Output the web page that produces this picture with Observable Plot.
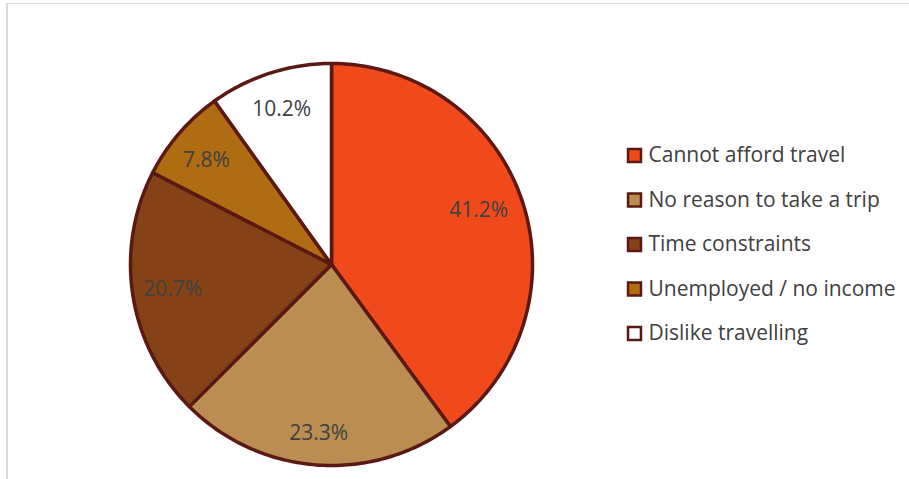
<!DOCTYPE html>
<html>
<head>
<meta charset="utf-8">
<script src="https://cdn.jsdelivr.net/npm/d3@7"></script>
<script src="https://cdn.jsdelivr.net/npm/@observablehq/plot@0.6"></script>
<style>
  html, body { margin: 0; padding: 0; background: #fff; }
  #wrap { position: relative; width: 909px; height: 479px; overflow: hidden; }
  #frame { position: absolute; left: 6px; top: 3px; width: 920px; height: 490px;
           border-left: 2px solid #d9d9d9; border-top: 1.5px solid #d9d9d9; pointer-events: none; }
</style>
</head>
<body>
<div id="wrap"><div id="frame"></div></div>
<script>
// ---- data ----
const categories = ["Cannot afford travel", "No reason to take a trip", "Time constraints", "Unemployed / no income", "Dislike travelling"];
const values = [41.2, 23.3, 20.7, 7.8, 10.2];
const labels = ["41.2%", "23.3%", "20.7%", "7.8%", "10.2%"];

// ---- style / layout ----
const colors = ["#F04A1C", "#BB8D53", "#844216", "#B06C13", "#FFFFFF"];
const strokeColor = "#5B1913";
const textColor = "#404040";
const labelRadius = [0.78, 0.84, 0.80, 0.81, 0.81];
const labelAngleShift = [-2, 0, 0, -1, 0]; // degrees
const cx = 331, cy = 264, R = 201;
const legendPx = 634, legendTextPx = 648, legendPy0 = 155, legendStep = 44.5;
const toX = px => (px - cx) / R;
const toY = py => (cy - py) / R;

const arcs = d3.pie().sort(null).value(d => d)(values);

// slice outlines as polygons in unit-circle coordinates
const slicePts = [];
arcs.forEach((a, i) => {
  const cat = categories[i];
  slicePts.push({cat, x: 0, y: 0});
  const n = Math.max(2, Math.ceil((a.endAngle - a.startAngle) / (Math.PI / 180)));
  for (let k = 0; k <= n; k++) {
    const t = a.startAngle + (a.endAngle - a.startAngle) * k / n;
    slicePts.push({cat, x: Math.sin(t), y: Math.cos(t)});
  }
  slicePts.push({cat, x: 0, y: 0});
});

const labelPts = arcs.map((a, i) => {
  const m = (a.startAngle + a.endAngle) / 2 + labelAngleShift[i] * Math.PI / 180;
  return {label: labels[i], x: labelRadius[i] * Math.sin(m), y: labelRadius[i] * Math.cos(m)};
});

const legendPts = categories.map((c, i) => ({
  cat: c,
  x: toX(legendPx),
  tx: toX(legendTextPx),
  y: toY(legendPy0 + i * legendStep)
}));

const chart = Plot.plot({
  width: 909,
  height: 479,
  margin: 0,
  x: {domain: [-1, 1], range: [cx - R, cx + R], axis: null},
  y: {domain: [-1, 1], range: [cy + R, cy - R], axis: null},
  color: {domain: categories, range: colors},
  style: {background: "transparent", fontFamily: "'Open Sans', sans-serif"},
  marks: [
    Plot.line(slicePts, {x: "x", y: "y", z: "cat", fill: "cat", stroke: strokeColor,
      strokeWidth: 3.5, strokeLinejoin: "round", curve: "linear"}),
    Plot.text(labelPts, {x: "x", y: "y", text: "label", fill: textColor, fontSize: 21}),
    Plot.dot(legendPts, {x: "x", y: "y", symbol: "square", r: 7.3, fill: "cat",
      stroke: strokeColor, strokeWidth: 2.5}),
    Plot.text(legendPts, {x: "tx", y: "y", text: "cat", textAnchor: "start", fill: textColor, fontSize: 21})
  ]
});
document.getElementById("wrap").prepend(chart);
</script>
</body>
</html>
